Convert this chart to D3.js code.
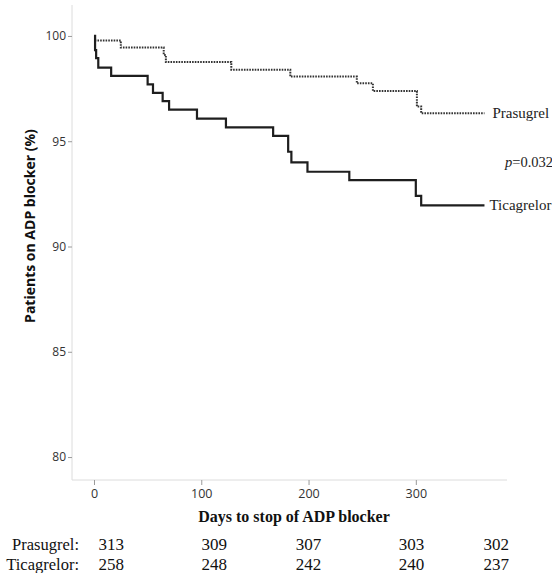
<!DOCTYPE html>
<html>
<head>
<meta charset="utf-8">
<script src="https://cdn.jsdelivr.net/npm/d3@7"></script>
<style>
  html, body { margin: 0; padding: 0; background: #fff; }
  svg { display: block; }
</style>
</head>
<body>
<svg id="chart" width="552" height="573"></svg>
<script>
// ---- data ----
const xTicks = [0, 100, 200, 300];
const yTicks = [80, 85, 90, 95, 100];

const prasugrelDays = [0, 1, 25, 65, 67, 128, 183, 245, 260, 301, 305, 364];
const prasugrelSurv = [100, 99.78, 99.45, 99.1, 98.76, 98.4, 98.07, 97.75, 97.38, 96.65, 96.33, 96.33];

const ticagrelorDays = [0, 1, 2, 4, 16, 50, 55, 64, 70, 96, 123, 167, 181, 184, 199, 238, 300, 305, 364];
const ticagrelorSurv = [100, 99.33, 98.95, 98.5, 98.1, 97.7, 97.3, 96.9, 96.5, 96.07, 95.66, 95.25, 94.5, 94.0, 93.55, 93.15, 92.4, 91.95, 91.95];

const groupNames = ["Prasugrel", "Ticagrelor"];
const pValueLabel = "p=0.032";

const riskDays = [16, 112, 200, 296, 375];
const prasugrelAtRisk = [313, 309, 307, 303, 302];
const ticagrelorAtRisk = [258, 248, 242, 240, 237];

const xTitle = "Days to stop of ADP blocker";
const yTitle = "Patients on ADP blocker (%)";

// ---- layout ----
const svg = d3.select("#chart");
const x = d3.scaleLinear().domain([-20.5, 385]).range([72, 507]);
const y = d3.scaleLinear().domain([78.91, 101.47]).range([480, 5]);

const axisColor = "#dcdcdc";
const tickFont = "'Open Sans', sans-serif";
const serif = "'Liberation Serif', 'Times New Roman', serif";

// y axis
const yAxis = svg.append("g").attr("transform", `translate(${x.range()[0]},0)`)
  .call(d3.axisLeft(y).tickValues(yTicks).tickSize(4).tickPadding(2).tickFormat(d3.format("d")));
yAxis.select(".domain").attr("stroke", axisColor).attr("d", `M0,${y.range()[1]}V${y.range()[0]}`);
yAxis.selectAll(".tick line").attr("stroke", "#9a9a9a");
yAxis.selectAll(".tick text").attr("font-family", tickFont).attr("font-size", 12).attr("fill", "#333");

// x axis
const xAxis = svg.append("g").attr("transform", `translate(0,${y.range()[0]})`)
  .call(d3.axisBottom(x).tickValues(xTicks).tickSize(5).tickPadding(4).tickFormat(d3.format("d")));
xAxis.select(".domain").attr("stroke", axisColor).attr("d", `M${x.range()[0]},0H${x.range()[1]}`);
xAxis.selectAll(".tick line").attr("stroke", "#9a9a9a");
xAxis.selectAll(".tick text").attr("font-family", tickFont).attr("font-size", 12.5).attr("fill", "#333");

// curves
const line = d3.line().x(d => x(d[0])).y(d => y(d[1])).curve(d3.curveStepAfter);
const prasugrel = prasugrelDays.map((d, i) => [d, prasugrelSurv[i]]);
const ticagrelor = ticagrelorDays.map((d, i) => [d, ticagrelorSurv[i]]);

svg.append("path").datum(prasugrel).attr("d", line)
  .attr("fill", "none").attr("stroke", "#333").attr("stroke-width", 2)
  .attr("stroke-dasharray", "1.6,1.1");
svg.append("path").datum(ticagrelor).attr("d", line)
  .attr("fill", "none").attr("stroke", "#1e1e1e").attr("stroke-width", 2.2);

// curve labels
const lastP = prasugrel[prasugrel.length - 1];
const lastT = ticagrelor[ticagrelor.length - 1];
svg.append("text").attr("x", x(lastP[0]) + 8).attr("y", y(lastP[1])).attr("dy", "0.33em")
  .attr("font-family", serif).attr("font-size", 15).attr("fill", "#222").text(groupNames[0]);
svg.append("text").attr("x", x(lastT[0]) + 5).attr("y", y(lastT[1])).attr("dy", "0.33em")
  .attr("font-family", serif).attr("font-size", 15).attr("fill", "#222").text(groupNames[1]);
const pt = svg.append("text").attr("x", 505).attr("y", y(94.02)).attr("dy", "0.33em")
  .attr("font-family", serif).attr("font-size", 14.5).attr("fill", "#222");
pt.append("tspan").attr("font-style", "italic").text(pValueLabel.slice(0, 1));
pt.append("tspan").text(pValueLabel.slice(1));

// axis titles
svg.append("text").attr("x", 294).attr("y", 522)
  .attr("text-anchor", "middle").attr("font-family", serif).attr("font-weight", "bold")
  .attr("font-size", 16).attr("fill", "#111").text(xTitle);
svg.append("text").attr("transform", `translate(35,${226}) rotate(-90)`)
  .attr("text-anchor", "middle").attr("font-family", "'Open Sans', sans-serif").attr("font-weight", "bold")
  .attr("font-size", 14).attr("fill", "#111").text(yTitle);

// number at risk
const rows = [
  { name: groupNames[0] + ":", vals: prasugrelAtRisk, yb: 550 },
  { name: groupNames[1] + ":", vals: ticagrelorAtRisk, yb: 570 }
];
rows.forEach(r => {
  svg.append("text").attr("x", 79).attr("y", r.yb).attr("text-anchor", "end")
    .attr("font-family", serif).attr("font-size", 16.5).attr("fill", "#111").text(r.name);
  svg.selectAll(null).data(r.vals).enter().append("text")
    .attr("x", (d, i) => x(riskDays[i])).attr("y", r.yb).attr("text-anchor", "middle")
    .attr("font-family", serif).attr("font-size", 17).attr("fill", "#111").text(d => d);
});
</script>
</body>
</html>
